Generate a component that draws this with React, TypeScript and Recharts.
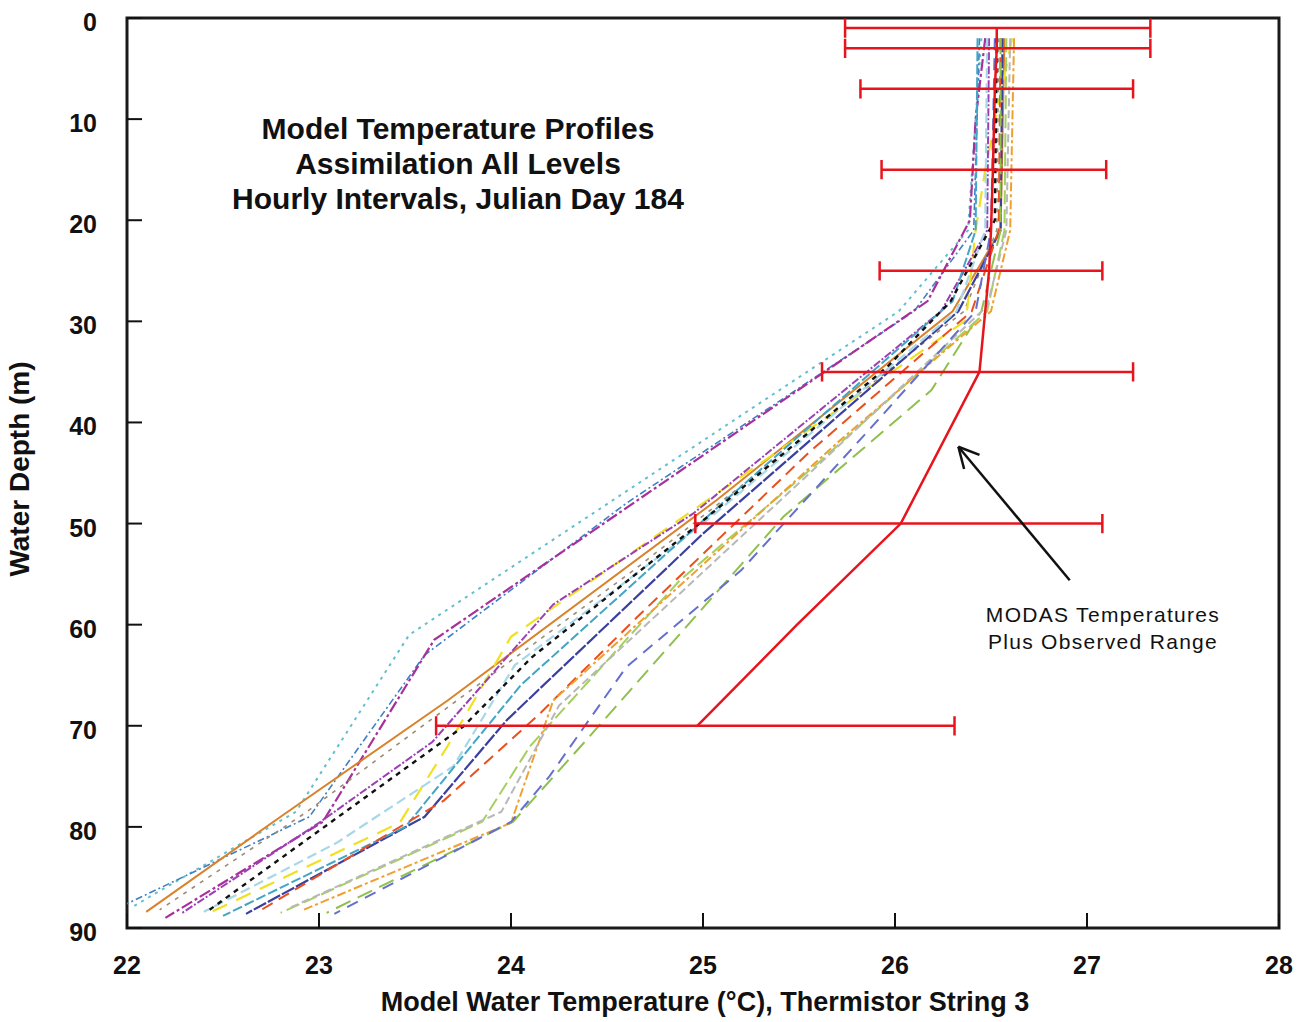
import { LineChart, Line, XAxis, YAxis, ReferenceLine, ReferenceArea } from 'recharts';

type Pair = [number, number]; // [temperature °C, depth m]

const xTicks = [22, 23, 24, 25, 26, 27, 28];
const yTicks = [0, 10, 20, 30, 40, 50, 60, 70, 80, 90];

// MODAS profile and observed range
const modasDepths = [1, 3, 7, 15, 21, 25, 35, 50, 60, 70];
const modasTemps = [26.53, 26.53, 26.52, 26.51, 26.5, 26.49, 26.44, 26.03, 25.49, 24.97];
const rangeDepths = [1, 3, 7, 15, 25, 35, 50, 70];
const rangeLow = [25.74, 25.74, 25.82, 25.93, 25.92, 25.62, 24.96, 23.61];
const rangeHigh = [27.33, 27.33, 27.24, 27.1, 27.08, 27.24, 27.08, 26.31];

// hourly model profiles
const cyanProfile: Pair[] = [[26.45, 2], [26.42, 10], [26.38, 21], [26.02, 29], [23.47, 61], [22.88, 78.5], [22.02, 88]];
const steelProfile: Pair[] = [[26.44, 2], [26.41, 21], [26.1, 29], [24.6, 48], [23.55, 63], [22.95, 79], [22.0, 87.6]];
const magentaProfile: Pair[] = [[26.47, 2], [26.42, 10], [26.39, 20], [26.17, 28], [23.6, 61.5], [23.02, 79.5], [22.2, 89]];
const orangeProfile: Pair[] = [[26.57, 2], [26.55, 21], [26.3, 29], [25.07, 47.7], [23.67, 67.5], [22.8, 79], [22.1, 88.4]];
const tanProfile: Pair[] = [[26.54, 2], [26.53, 21], [26.36, 29], [24.64, 54.6], [23.49, 70.7], [22.93, 78.6], [22.17, 88.2]];
const yellowProfile: Pair[] = [[26.61, 2], [26.47, 15], [26.42, 21], [26.37, 29.9], [24.0, 61.2], [23.67, 72], [23.42, 79.6], [22.43, 88.5]];
const blackProfile: Pair[] = [[26.53, 2], [26.52, 20], [26.29, 28], [25.96, 34.5], [25.02, 49.4], [24.11, 63.2], [23.75, 70.1], [22.43, 88.2]];
const violetProfile: Pair[] = [[26.49, 2], [26.48, 21], [26.24, 29], [24.95, 49], [24.22, 58], [23.59, 71.6], [23.0, 79.6], [22.28, 88.6]];
const darkBlueProfile: Pair[] = [[26.56, 2], [26.55, 21], [26.33, 29], [25.0, 51], [23.98, 69.4], [23.55, 79], [22.62, 88.6]];
const lightBlueProfile: Pair[] = [[26.48, 2], [26.47, 21], [26.32, 29], [25.0, 50], [24.02, 64], [23.7, 74], [23.09, 81.6], [22.4, 88.4]];
const tealProfile: Pair[] = [[26.43, 2], [26.42, 21], [26.3, 28], [25.1, 48], [24.05, 66], [23.45, 80], [22.5, 88.8]];
const orangeRedProfile: Pair[] = [[26.55, 2], [26.54, 21], [26.4, 29], [25.55, 43], [24.66, 59.2], [24.15, 68.8], [23.65, 77.4], [22.7, 88.2]];
const greenAProfile: Pair[] = [[26.55, 2], [26.55, 21], [26.45, 29], [26.19, 36.8], [25.42, 49.3], [24.36, 72.1], [24.01, 79.5], [23.04, 88.5]];
const greenBProfile: Pair[] = [[26.58, 2], [26.57, 21], [26.48, 29], [25.6, 44], [24.88, 55.6], [24.1, 72], [23.85, 79.5], [22.8, 88.5]];
const orangeDashProfile: Pair[] = [[26.62, 2], [26.6, 21], [26.5, 29], [25.7, 42], [24.22, 67.5], [24.0, 79.6], [22.92, 88.2]];
const greyProfile: Pair[] = [[26.6, 2], [26.58, 21], [26.48, 28.5], [25.5, 46], [24.25, 68], [23.95, 78.5], [22.85, 88]];
const slateProfile: Pair[] = [[26.52, 2], [26.5, 21], [26.42, 29], [25.9, 40], [25.2, 54.6], [24.6, 64.2], [24.2, 75], [24.0, 79.5], [23.08, 88.6]];

const profiles = [
  { key: 'cyan', data: cyanProfile, stroke: '#62bfcf', dash: '3 5', w: 2 },
  { key: 'steel', data: steelProfile, stroke: '#3f7fc4', dash: '7 3 2 3', w: 1.6 },
  { key: 'magenta', data: magentaProfile, stroke: '#a8309a', dash: '12 3 3 3', w: 2.2 },
  { key: 'orange', data: orangeProfile, stroke: '#d9822b', dash: undefined, w: 2 },
  { key: 'tan', data: tanProfile, stroke: '#9a8c78', dash: '4 6', w: 1.6 },
  { key: 'yellow', data: yellowProfile, stroke: '#f0e020', dash: '16 10', w: 2.2 },
  { key: 'violet', data: violetProfile, stroke: '#9b3fb5', dash: '8 2 2 2', w: 2 },
  { key: 'darkBlue', data: darkBlueProfile, stroke: '#3b3fa0', dash: '14 2', w: 2.2 },
  { key: 'lightBlue', data: lightBlueProfile, stroke: '#a8d8e8', dash: '10 5', w: 2.2 },
  { key: 'teal', data: tealProfile, stroke: '#42a5c5', dash: '10 3', w: 2 },
  { key: 'orangeRed', data: orangeRedProfile, stroke: '#e8501e', dash: '12 7', w: 2 },
  { key: 'greenA', data: greenAProfile, stroke: '#8fc04c', dash: '16 8', w: 2 },
  { key: 'greenB', data: greenBProfile, stroke: '#a5cf5e', dash: '14 5', w: 2 },
  { key: 'orangeDash', data: orangeDashProfile, stroke: '#f0a030', dash: '9 3 3 3', w: 2 },
  { key: 'grey', data: greyProfile, stroke: '#b8b8b8', dash: '8 4', w: 2 },
  { key: 'slate', data: slateProfile, stroke: '#6670cc', dash: '12 8', w: 2 },
  { key: 'black', data: blackProfile, stroke: '#111111', dash: '5 5', w: 2.4 },
];

const CAP = 0.95;
const FONT = '"Liberation Sans", Arial, sans-serif';
const PLOT_LEFT = 127;
const PLOT_BOTTOM = 928;

const toPoints = (pairs: Pair[]) => pairs.map(([t, d]) => ({ t, d }));
const modasData = modasDepths.map((d, i) => ({ t: modasTemps[i], d }));

// one polyline per range bar: left cap, bar, right cap
const rangeBars = rangeDepths.map((d, i) => [
  { t: rangeLow[i], d: d - CAP },
  { t: rangeLow[i], d: d + CAP },
  { t: rangeLow[i], d },
  { t: rangeHigh[i], d },
  { t: rangeHigh[i], d: d - CAP },
  { t: rangeHigh[i], d: d + CAP },
]);

function XTick({ x, payload }: any) {
  return (
    <g>
      <line x1={x} x2={x} y1={PLOT_BOTTOM} y2={PLOT_BOTTOM - 15} stroke="#111" strokeWidth={2} />
      <text x={x} y={974} textAnchor="middle" fontFamily={FONT} fontWeight="bold" fontSize={25} fill="#111">
        {payload.value}
      </text>
    </g>
  );
}

function YTick({ y, payload }: any) {
  return (
    <g>
      <line x1={PLOT_LEFT} x2={PLOT_LEFT + 15} y1={y} y2={y} stroke="#111" strokeWidth={2} />
      <text x={97} y={y + 13} textAnchor="end" fontFamily={FONT} fontWeight="bold" fontSize={25} fill="#111">
        {payload.value}
      </text>
    </g>
  );
}

export default function App() {
  return (
    <div style={{ position: 'absolute', left: 0, top: 0, width: 1303, height: 1022, background: '#fff', fontFamily: FONT }}>
      <LineChart width={1303} height={1022} margin={{ top: 18, right: 24, bottom: 0, left: 0 }}>
        <XAxis
          type="number"
          dataKey="t"
          domain={[22, 28]}
          ticks={xTicks}
          height={94}
          axisLine={false}
          tickLine={false}
          tick={<XTick />}
          allowDataOverflow
        />
        <YAxis
          type="number"
          dataKey="d"
          domain={[0, 90]}
          ticks={yTicks}
          reversed
          width={127}
          axisLine={false}
          tickLine={false}
          tick={<YTick />}
          allowDataOverflow
        />
        {profiles.map(p => (
          <Line
            key={p.key}
            data={toPoints(p.data)}
            dataKey="d"
            type="linear"
            stroke={p.stroke}
            strokeWidth={p.w}
            strokeDasharray={p.dash}
            dot={false}
            activeDot={false}
            isAnimationActive={false}
          />
        ))}
        {rangeBars.map((bar, i) => (
          <Line
            key={`range-${i}`}
            data={bar}
            dataKey="d"
            type="linear"
            stroke="#e8141c"
            strokeWidth={2.5}
            dot={false}
            activeDot={false}
            isAnimationActive={false}
          />
        ))}
        <Line
          data={modasData}
          dataKey="d"
          type="linear"
          stroke="#e8141c"
          strokeWidth={2.5}
          dot={false}
          activeDot={false}
          isAnimationActive={false}
        />
        <ReferenceLine segment={[{ x: 26.91, y: 55.6 }, { x: 26.33, y: 42.4 }]} stroke="#111" strokeWidth={2.5} />
        <ReferenceLine segment={[{ x: 26.33, y: 42.4 }, { x: 26.44, y: 43.2 }]} stroke="#111" strokeWidth={2.5} />
        <ReferenceLine segment={[{ x: 26.33, y: 42.4 }, { x: 26.36, y: 44.6 }]} stroke="#111" strokeWidth={2.5} />
        <ReferenceArea x1={22} x2={28} y1={0} y2={90} fill="none" stroke="#1a1a1a" strokeWidth={3} />
      </LineChart>

      <div style={{ position: 'absolute', left: 158, top: 111, width: 600, textAlign: 'center', fontWeight: 'bold', fontSize: 30, lineHeight: '35px', color: '#111' }}>
        Model Temperature Profiles<br />
        Assimilation All Levels<br />
        Hourly Intervals, Julian Day 184
      </div>

      <div style={{ position: 'absolute', left: 953, top: 601, width: 300, textAlign: 'center', fontSize: 21, lineHeight: '27px', letterSpacing: 1.3, color: '#111' }}>
        MODAS Temperatures<br />
        Plus Observed Range
      </div>

      <div style={{ position: 'absolute', left: 255, top: 987, width: 900, textAlign: 'center', fontWeight: 'bold', fontSize: 27, color: '#111' }}>
        Model Water Temperature (°C), Thermistor String 3
      </div>

      <div style={{ position: 'absolute', left: 20, top: 469, width: 0, height: 0 }}>
        <div style={{ position: 'absolute', left: -150, top: -16, width: 300, textAlign: 'center', transform: 'rotate(-90deg)', fontWeight: 'bold', fontSize: 28, color: '#111' }}>
          Water Depth (m)
        </div>
      </div>
    </div>
  );
}
